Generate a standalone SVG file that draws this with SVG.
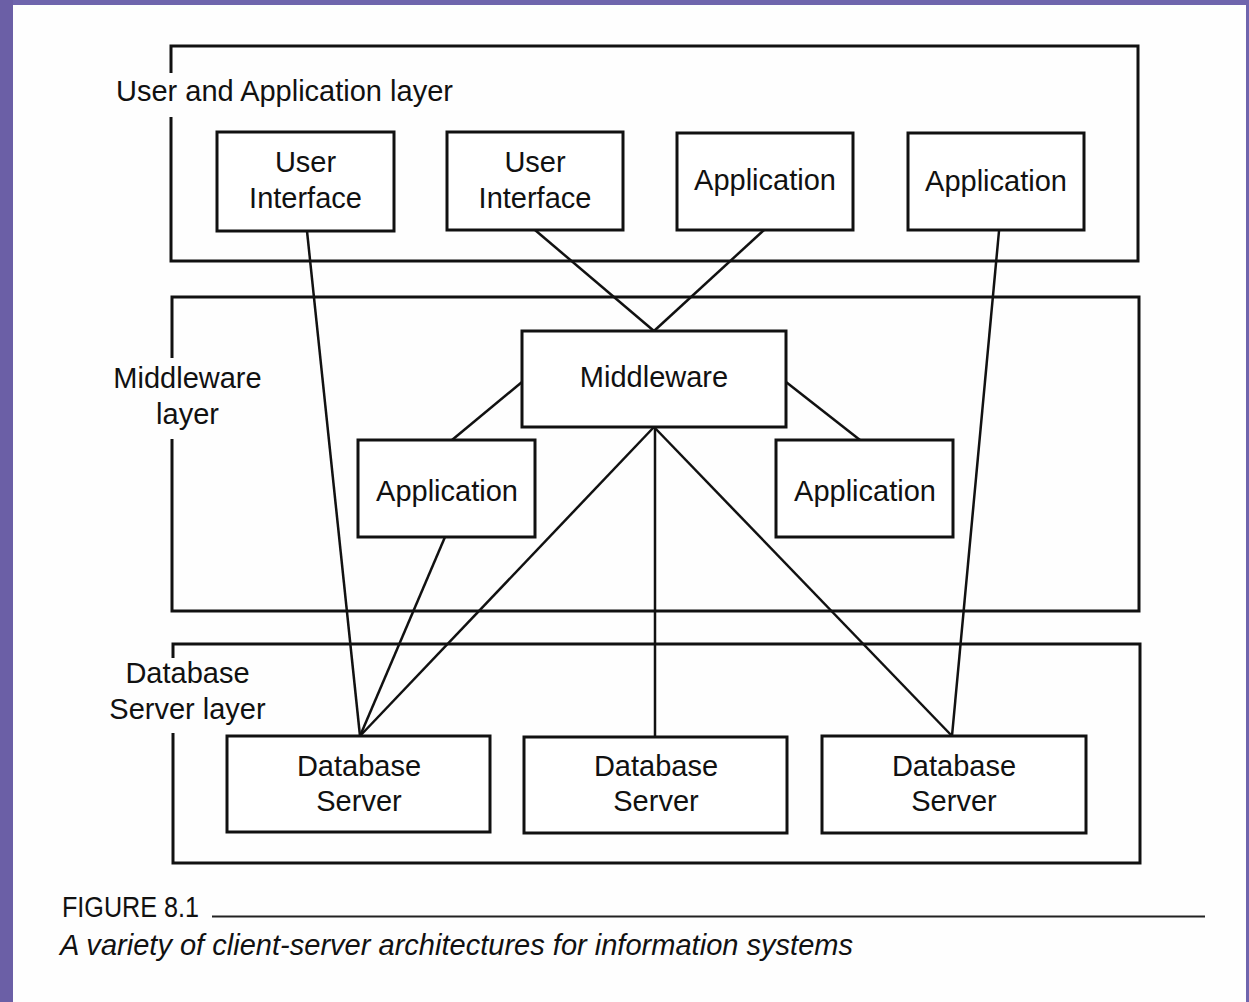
<svg xmlns="http://www.w3.org/2000/svg" width="1249" height="1002" viewBox="0 0 1249 1002">
<style>
.box{fill:none;stroke:#111;stroke-width:3}
.node{fill:#fff;stroke:#111;stroke-width:3}
.edge{stroke:#111;stroke-width:2.5;fill:none}
.t{font-family:"Liberation Sans",Arial,sans-serif;font-size:29px;fill:#111;text-anchor:middle}
.lbl{font-family:"Liberation Sans",Arial,sans-serif;font-size:29px;fill:#111}
.cap{font-family:"Liberation Sans",Arial,sans-serif;font-size:30px;fill:#111}
</style>
<rect x="0" y="0" width="1249" height="1002" fill="#fefefe"/>
<rect x="0" y="0" width="1249" height="5" fill="#6f65ad"/>
<rect x="0" y="0" width="13" height="1002" fill="#6b5fa6"/>
<rect x="1246" y="0" width="3" height="1002" fill="#6f65ad"/>

<g id="layer-user">
<path class="box" d="M171,73 V46 H1138 V261 H171 V117"/>
<text class="lbl" x="116" y="101">User and Application layer</text>
</g>
<g id="layer-middleware">
<path class="box" d="M172,358 V297 H1139 V611 H172 V439"/>
<text class="t" x="187.5" y="388">Middleware</text>
<text class="t" x="187.5" y="424">layer</text>
</g>
<g id="layer-db">
<path class="box" d="M173,658 V644 H1140 V863 H173 V733"/>
<text class="t" x="187.5" y="683">Database</text>
<text class="t" x="187.5" y="719">Server layer</text>
</g>

<g id="connectors">
<line class="edge" x1="307" y1="231" x2="360" y2="736"/>
<line class="edge" x1="535" y1="230" x2="654" y2="331"/>
<line class="edge" x1="764" y1="230" x2="654" y2="331"/>
<line class="edge" x1="999" y1="231" x2="952" y2="736"/>
<line class="edge" x1="522" y1="382" x2="452" y2="440"/>
<line class="edge" x1="786" y1="382" x2="860" y2="440"/>
<line class="edge" x1="654" y1="427" x2="360" y2="736"/>
<line class="edge" x1="655" y1="427" x2="655" y2="737"/>
<line class="edge" x1="654" y1="427" x2="952" y2="736"/>
<line class="edge" x1="445" y1="537" x2="360" y2="736"/>
</g>

<g id="ui1"><rect class="node" x="217" y="132" width="177" height="99"/><text class="t" x="305.5" y="172">User</text><text class="t" x="305.5" y="208">Interface</text></g>
<g id="ui2"><rect class="node" x="447" y="132" width="176" height="98"/><text class="t" x="535" y="172">User</text><text class="t" x="535" y="208">Interface</text></g>
<g id="app1"><rect class="node" x="677" y="133" width="176" height="97"/><text class="t" x="765" y="190">Application</text></g>
<g id="app2"><rect class="node" x="908" y="133" width="176" height="97"/><text class="t" x="996" y="191">Application</text></g>
<g id="middleware"><rect class="node" x="522" y="331" width="264" height="96"/><text class="t" x="654" y="387">Middleware</text></g>
<g id="app3"><rect class="node" x="358" y="440" width="177" height="97"/><text class="t" x="447" y="501">Application</text></g>
<g id="app4"><rect class="node" x="776" y="440" width="177" height="97"/><text class="t" x="865" y="501">Application</text></g>
<g id="db1"><rect class="node" x="227" y="736" width="263" height="96"/><text class="t" x="359" y="776">Database</text><text class="t" x="359" y="811">Server</text></g>
<g id="db2"><rect class="node" x="524" y="737" width="263" height="96"/><text class="t" x="656" y="776">Database</text><text class="t" x="656" y="811">Server</text></g>
<g id="db3"><rect class="node" x="822" y="736" width="264" height="97"/><text class="t" x="954" y="776">Database</text><text class="t" x="954" y="811">Server</text></g>

<g id="caption">
<text class="cap" x="62" y="917" textLength="137" lengthAdjust="spacingAndGlyphs">FIGURE 8.1</text>
<line x1="212" y1="916.5" x2="1205" y2="916.5" stroke="#222" stroke-width="2"/>
<text class="cap" x="60" y="955" font-style="italic" textLength="793" lengthAdjust="spacingAndGlyphs">A variety of client-server architectures for information systems</text>
</g>
</svg>
